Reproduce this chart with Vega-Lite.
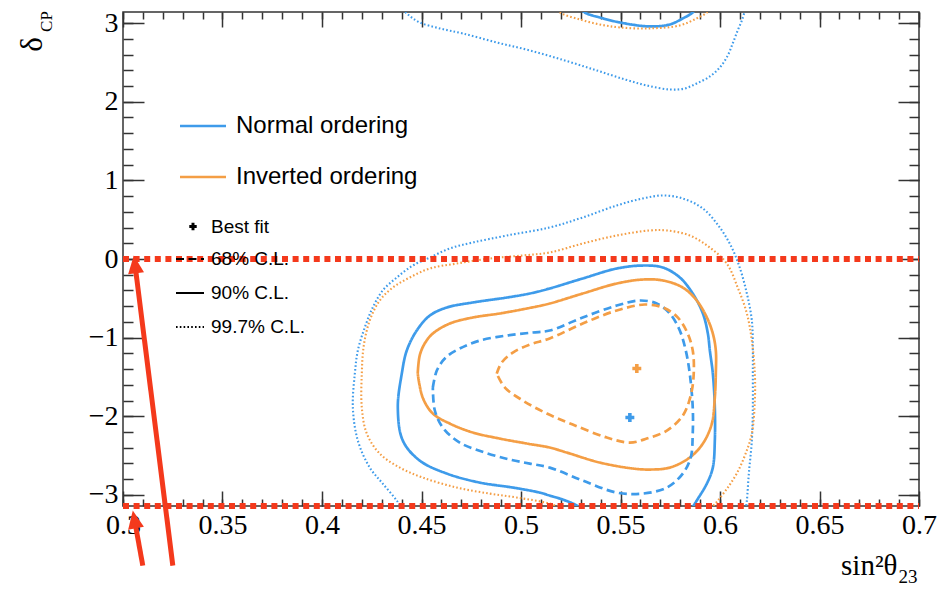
{
 "$schema": "https://vega.github.io/schema/vega-lite/v6.json",
 "width": 796,
 "height": 494,
 "autosize": "none",
 "padding": {"left": 123, "top": 12, "right": 26, "bottom": 86},
 "background": "white",
 "config": {
  "view": {"stroke": "#333", "strokeWidth": 1.5},
  "axis": {"domain": false, "grid": false, "tickColor": "#333", "tickWidth": 1.5, "labelColor": "#000", "labelFont": "Liberation Serif", "labelFontSize": 28, "titleColor": "#000", "titleFont": "Liberation Serif", "titleFontWeight": "normal", "labelFlush": false, "labelOverlap": false, "labelBound": false},
  "legend": {"labelFont": "Liberation Sans", "labelColor": "#000", "labelLimit": 0, "padding": 0}
 },
 "datasets": {
  "contours": [
   {"ordering":"Normal ordering","cl":"99.7% C.L.","part":"a","k":0,"sin2":0.4401,"dcp":-3.174},
   {"ordering":"Normal ordering","cl":"99.7% C.L.","part":"a","k":1,"sin2":0.4376,"dcp":-3.073},
   {"ordering":"Normal ordering","cl":"99.7% C.L.","part":"a","k":2,"sin2":0.4305,"dcp":-2.856},
   {"ordering":"Normal ordering","cl":"99.7% C.L.","part":"a","k":3,"sin2":0.4240,"dcp":-2.653},
   {"ordering":"Normal ordering","cl":"99.7% C.L.","part":"a","k":4,"sin2":0.4180,"dcp":-2.309},
   {"ordering":"Normal ordering","cl":"99.7% C.L.","part":"a","k":5,"sin2":0.4155,"dcp":-1.889},
   {"ordering":"Normal ordering","cl":"99.7% C.L.","part":"a","k":6,"sin2":0.4165,"dcp":-1.457},
   {"ordering":"Normal ordering","cl":"99.7% C.L.","part":"a","k":7,"sin2":0.4180,"dcp":-1.164},
   {"ordering":"Normal ordering","cl":"99.7% C.L.","part":"a","k":8,"sin2":0.4215,"dcp":-0.871},
   {"ordering":"Normal ordering","cl":"99.7% C.L.","part":"a","k":9,"sin2":0.4255,"dcp":-0.617},
   {"ordering":"Normal ordering","cl":"99.7% C.L.","part":"a","k":10,"sin2":0.4305,"dcp":-0.401},
   {"ordering":"Normal ordering","cl":"99.7% C.L.","part":"a","k":11,"sin2":0.4376,"dcp":-0.235},
   {"ordering":"Normal ordering","cl":"99.7% C.L.","part":"a","k":12,"sin2":0.4456,"dcp":-0.083},
   {"ordering":"Normal ordering","cl":"99.7% C.L.","part":"a","k":13,"sin2":0.4542,"dcp":0.019},
   {"ordering":"Normal ordering","cl":"99.7% C.L.","part":"a","k":14,"sin2":0.4642,"dcp":0.134},
   {"ordering":"Normal ordering","cl":"99.7% C.L.","part":"a","k":15,"sin2":0.4758,"dcp":0.210},
   {"ordering":"Normal ordering","cl":"99.7% C.L.","part":"a","k":16,"sin2":0.4929,"dcp":0.299},
   {"ordering":"Normal ordering","cl":"99.7% C.L.","part":"a","k":17,"sin2":0.5144,"dcp":0.401},
   {"ordering":"Normal ordering","cl":"99.7% C.L.","part":"a","k":18,"sin2":0.5310,"dcp":0.528},
   {"ordering":"Normal ordering","cl":"99.7% C.L.","part":"a","k":19,"sin2":0.5481,"dcp":0.681},
   {"ordering":"Normal ordering","cl":"99.7% C.L.","part":"a","k":20,"sin2":0.5612,"dcp":0.770},
   {"ordering":"Normal ordering","cl":"99.7% C.L.","part":"a","k":21,"sin2":0.5713,"dcp":0.808},
   {"ordering":"Normal ordering","cl":"99.7% C.L.","part":"a","k":22,"sin2":0.5813,"dcp":0.770},
   {"ordering":"Normal ordering","cl":"99.7% C.L.","part":"a","k":23,"sin2":0.5914,"dcp":0.642},
   {"ordering":"Normal ordering","cl":"99.7% C.L.","part":"a","k":24,"sin2":0.5999,"dcp":0.401},
   {"ordering":"Normal ordering","cl":"99.7% C.L.","part":"a","k":25,"sin2":0.6059,"dcp":0.146},
   {"ordering":"Normal ordering","cl":"99.7% C.L.","part":"a","k":26,"sin2":0.6099,"dcp":-0.108},
   {"ordering":"Normal ordering","cl":"99.7% C.L.","part":"a","k":27,"sin2":0.6135,"dcp":-0.439},
   {"ordering":"Normal ordering","cl":"99.7% C.L.","part":"a","k":28,"sin2":0.6160,"dcp":-0.782},
   {"ordering":"Normal ordering","cl":"99.7% C.L.","part":"a","k":29,"sin2":0.6165,"dcp":-1.164},
   {"ordering":"Normal ordering","cl":"99.7% C.L.","part":"a","k":30,"sin2":0.6165,"dcp":-1.457},
   {"ordering":"Normal ordering","cl":"99.7% C.L.","part":"a","k":31,"sin2":0.6165,"dcp":-1.889},
   {"ordering":"Normal ordering","cl":"99.7% C.L.","part":"a","k":32,"sin2":0.6160,"dcp":-2.309},
   {"ordering":"Normal ordering","cl":"99.7% C.L.","part":"a","k":33,"sin2":0.6145,"dcp":-2.729},
   {"ordering":"Normal ordering","cl":"99.7% C.L.","part":"a","k":34,"sin2":0.6135,"dcp":-3.073},
   {"ordering":"Normal ordering","cl":"99.7% C.L.","part":"a","k":35,"sin2":0.6130,"dcp":-3.174},
   {"ordering":"Normal ordering","cl":"99.7% C.L.","part":"b","k":0,"sin2":0.4391,"dcp":3.212},
   {"ordering":"Normal ordering","cl":"99.7% C.L.","part":"b","k":1,"sin2":0.4432,"dcp":3.110},
   {"ordering":"Normal ordering","cl":"99.7% C.L.","part":"b","k":2,"sin2":0.4491,"dcp":3.009},
   {"ordering":"Normal ordering","cl":"99.7% C.L.","part":"b","k":3,"sin2":0.4592,"dcp":2.933},
   {"ordering":"Normal ordering","cl":"99.7% C.L.","part":"b","k":4,"sin2":0.4707,"dcp":2.869},
   {"ordering":"Normal ordering","cl":"99.7% C.L.","part":"b","k":5,"sin2":0.4878,"dcp":2.754},
   {"ordering":"Normal ordering","cl":"99.7% C.L.","part":"b","k":6,"sin2":0.5044,"dcp":2.653},
   {"ordering":"Normal ordering","cl":"99.7% C.L.","part":"b","k":7,"sin2":0.5220,"dcp":2.525},
   {"ordering":"Normal ordering","cl":"99.7% C.L.","part":"b","k":8,"sin2":0.5381,"dcp":2.398},
   {"ordering":"Normal ordering","cl":"99.7% C.L.","part":"b","k":9,"sin2":0.5522,"dcp":2.284},
   {"ordering":"Normal ordering","cl":"99.7% C.L.","part":"b","k":10,"sin2":0.5632,"dcp":2.207},
   {"ordering":"Normal ordering","cl":"99.7% C.L.","part":"b","k":11,"sin2":0.5748,"dcp":2.156},
   {"ordering":"Normal ordering","cl":"99.7% C.L.","part":"b","k":12,"sin2":0.5823,"dcp":2.169},
   {"ordering":"Normal ordering","cl":"99.7% C.L.","part":"b","k":13,"sin2":0.5883,"dcp":2.233},
   {"ordering":"Normal ordering","cl":"99.7% C.L.","part":"b","k":14,"sin2":0.5949,"dcp":2.322},
   {"ordering":"Normal ordering","cl":"99.7% C.L.","part":"b","k":15,"sin2":0.5999,"dcp":2.436},
   {"ordering":"Normal ordering","cl":"99.7% C.L.","part":"b","k":16,"sin2":0.6039,"dcp":2.589},
   {"ordering":"Normal ordering","cl":"99.7% C.L.","part":"b","k":17,"sin2":0.6064,"dcp":2.742},
   {"ordering":"Normal ordering","cl":"99.7% C.L.","part":"b","k":18,"sin2":0.6089,"dcp":2.907},
   {"ordering":"Normal ordering","cl":"99.7% C.L.","part":"b","k":19,"sin2":0.6110,"dcp":3.034},
   {"ordering":"Normal ordering","cl":"99.7% C.L.","part":"b","k":20,"sin2":0.6125,"dcp":3.161},
   {"ordering":"Normal ordering","cl":"99.7% C.L.","part":"b","k":21,"sin2":0.6130,"dcp":3.225},
   {"ordering":"Inverted ordering","cl":"99.7% C.L.","part":"a","k":0,"sin2":0.5205,"dcp":-3.174},
   {"ordering":"Inverted ordering","cl":"99.7% C.L.","part":"a","k":1,"sin2":0.5144,"dcp":-3.111},
   {"ordering":"Inverted ordering","cl":"99.7% C.L.","part":"a","k":2,"sin2":0.4979,"dcp":-3.034},
   {"ordering":"Inverted ordering","cl":"99.7% C.L.","part":"a","k":3,"sin2":0.4843,"dcp":-2.984},
   {"ordering":"Inverted ordering","cl":"99.7% C.L.","part":"a","k":4,"sin2":0.4677,"dcp":-2.907},
   {"ordering":"Inverted ordering","cl":"99.7% C.L.","part":"a","k":5,"sin2":0.4506,"dcp":-2.780},
   {"ordering":"Inverted ordering","cl":"99.7% C.L.","part":"a","k":6,"sin2":0.4391,"dcp":-2.653},
   {"ordering":"Inverted ordering","cl":"99.7% C.L.","part":"a","k":7,"sin2":0.4290,"dcp":-2.475},
   {"ordering":"Inverted ordering","cl":"99.7% C.L.","part":"a","k":8,"sin2":0.4225,"dcp":-2.220},
   {"ordering":"Inverted ordering","cl":"99.7% C.L.","part":"a","k":9,"sin2":0.4200,"dcp":-1.889},
   {"ordering":"Inverted ordering","cl":"99.7% C.L.","part":"a","k":10,"sin2":0.4200,"dcp":-1.457},
   {"ordering":"Inverted ordering","cl":"99.7% C.L.","part":"a","k":11,"sin2":0.4210,"dcp":-1.100},
   {"ordering":"Inverted ordering","cl":"99.7% C.L.","part":"a","k":12,"sin2":0.4240,"dcp":-0.782},
   {"ordering":"Inverted ordering","cl":"99.7% C.L.","part":"a","k":13,"sin2":0.4290,"dcp":-0.528},
   {"ordering":"Inverted ordering","cl":"99.7% C.L.","part":"a","k":14,"sin2":0.4356,"dcp":-0.363},
   {"ordering":"Inverted ordering","cl":"99.7% C.L.","part":"a","k":15,"sin2":0.4441,"dcp":-0.235},
   {"ordering":"Inverted ordering","cl":"99.7% C.L.","part":"a","k":16,"sin2":0.4542,"dcp":-0.121},
   {"ordering":"Inverted ordering","cl":"99.7% C.L.","part":"a","k":17,"sin2":0.4677,"dcp":-0.057},
   {"ordering":"Inverted ordering","cl":"99.7% C.L.","part":"a","k":18,"sin2":0.4843,"dcp":0.006},
   {"ordering":"Inverted ordering","cl":"99.7% C.L.","part":"a","k":19,"sin2":0.5009,"dcp":0.045},
   {"ordering":"Inverted ordering","cl":"99.7% C.L.","part":"a","k":20,"sin2":0.5144,"dcp":0.083},
   {"ordering":"Inverted ordering","cl":"99.7% C.L.","part":"a","k":21,"sin2":0.5310,"dcp":0.197},
   {"ordering":"Inverted ordering","cl":"99.7% C.L.","part":"a","k":22,"sin2":0.5481,"dcp":0.299},
   {"ordering":"Inverted ordering","cl":"99.7% C.L.","part":"a","k":23,"sin2":0.5647,"dcp":0.363},
   {"ordering":"Inverted ordering","cl":"99.7% C.L.","part":"a","k":24,"sin2":0.5733,"dcp":0.363},
   {"ordering":"Inverted ordering","cl":"99.7% C.L.","part":"a","k":25,"sin2":0.5848,"dcp":0.299},
   {"ordering":"Inverted ordering","cl":"99.7% C.L.","part":"a","k":26,"sin2":0.5949,"dcp":0.146},
   {"ordering":"Inverted ordering","cl":"99.7% C.L.","part":"a","k":27,"sin2":0.6034,"dcp":-0.057},
   {"ordering":"Inverted ordering","cl":"99.7% C.L.","part":"a","k":28,"sin2":0.6089,"dcp":-0.363},
   {"ordering":"Inverted ordering","cl":"99.7% C.L.","part":"a","k":29,"sin2":0.6135,"dcp":-0.693},
   {"ordering":"Inverted ordering","cl":"99.7% C.L.","part":"a","k":30,"sin2":0.6160,"dcp":-1.037},
   {"ordering":"Inverted ordering","cl":"99.7% C.L.","part":"a","k":31,"sin2":0.6175,"dcp":-1.457},
   {"ordering":"Inverted ordering","cl":"99.7% C.L.","part":"a","k":32,"sin2":0.6175,"dcp":-1.800},
   {"ordering":"Inverted ordering","cl":"99.7% C.L.","part":"a","k":33,"sin2":0.6160,"dcp":-2.220},
   {"ordering":"Inverted ordering","cl":"99.7% C.L.","part":"a","k":34,"sin2":0.6125,"dcp":-2.500},
   {"ordering":"Inverted ordering","cl":"99.7% C.L.","part":"a","k":35,"sin2":0.6084,"dcp":-2.729},
   {"ordering":"Inverted ordering","cl":"99.7% C.L.","part":"a","k":36,"sin2":0.6039,"dcp":-2.907},
   {"ordering":"Inverted ordering","cl":"99.7% C.L.","part":"a","k":37,"sin2":0.5989,"dcp":-3.073},
   {"ordering":"Inverted ordering","cl":"99.7% C.L.","part":"a","k":38,"sin2":0.5954,"dcp":-3.174},
   {"ordering":"Inverted ordering","cl":"99.7% C.L.","part":"b","k":0,"sin2":0.5170,"dcp":3.212},
   {"ordering":"Inverted ordering","cl":"99.7% C.L.","part":"b","k":1,"sin2":0.5195,"dcp":3.136},
   {"ordering":"Inverted ordering","cl":"99.7% C.L.","part":"b","k":2,"sin2":0.5295,"dcp":3.047},
   {"ordering":"Inverted ordering","cl":"99.7% C.L.","part":"b","k":3,"sin2":0.5396,"dcp":2.983},
   {"ordering":"Inverted ordering","cl":"99.7% C.L.","part":"b","k":4,"sin2":0.5496,"dcp":2.945},
   {"ordering":"Inverted ordering","cl":"99.7% C.L.","part":"b","k":5,"sin2":0.5647,"dcp":2.933},
   {"ordering":"Inverted ordering","cl":"99.7% C.L.","part":"b","k":6,"sin2":0.5798,"dcp":2.971},
   {"ordering":"Inverted ordering","cl":"99.7% C.L.","part":"b","k":7,"sin2":0.5883,"dcp":3.060},
   {"ordering":"Inverted ordering","cl":"99.7% C.L.","part":"b","k":8,"sin2":0.5934,"dcp":3.136},
   {"ordering":"Inverted ordering","cl":"99.7% C.L.","part":"b","k":9,"sin2":0.5954,"dcp":3.212},
   {"ordering":"Normal ordering","cl":"90% C.L.","part":"a","k":0,"sin2":0.5295,"dcp":-3.174},
   {"ordering":"Normal ordering","cl":"90% C.L.","part":"a","k":1,"sin2":0.5280,"dcp":-3.136},
   {"ordering":"Normal ordering","cl":"90% C.L.","part":"a","k":2,"sin2":0.5210,"dcp":-3.060},
   {"ordering":"Normal ordering","cl":"90% C.L.","part":"a","k":3,"sin2":0.5144,"dcp":-3.009},
   {"ordering":"Normal ordering","cl":"90% C.L.","part":"a","k":4,"sin2":0.5094,"dcp":-2.971},
   {"ordering":"Normal ordering","cl":"90% C.L.","part":"a","k":5,"sin2":0.4959,"dcp":-2.907},
   {"ordering":"Normal ordering","cl":"90% C.L.","part":"a","k":6,"sin2":0.4793,"dcp":-2.844},
   {"ordering":"Normal ordering","cl":"90% C.L.","part":"a","k":7,"sin2":0.4627,"dcp":-2.729},
   {"ordering":"Normal ordering","cl":"90% C.L.","part":"a","k":8,"sin2":0.4491,"dcp":-2.564},
   {"ordering":"Normal ordering","cl":"90% C.L.","part":"a","k":9,"sin2":0.4406,"dcp":-2.309},
   {"ordering":"Normal ordering","cl":"90% C.L.","part":"a","k":10,"sin2":0.4381,"dcp":-1.889},
   {"ordering":"Normal ordering","cl":"90% C.L.","part":"a","k":11,"sin2":0.4401,"dcp":-1.457},
   {"ordering":"Normal ordering","cl":"90% C.L.","part":"a","k":12,"sin2":0.4426,"dcp":-1.164},
   {"ordering":"Normal ordering","cl":"90% C.L.","part":"a","k":13,"sin2":0.4476,"dcp":-0.910},
   {"ordering":"Normal ordering","cl":"90% C.L.","part":"a","k":14,"sin2":0.4542,"dcp":-0.719},
   {"ordering":"Normal ordering","cl":"90% C.L.","part":"a","k":15,"sin2":0.4627,"dcp":-0.617},
   {"ordering":"Normal ordering","cl":"90% C.L.","part":"a","k":16,"sin2":0.4758,"dcp":-0.553},
   {"ordering":"Normal ordering","cl":"90% C.L.","part":"a","k":17,"sin2":0.4929,"dcp":-0.490},
   {"ordering":"Normal ordering","cl":"90% C.L.","part":"a","k":18,"sin2":0.5044,"dcp":-0.439},
   {"ordering":"Normal ordering","cl":"90% C.L.","part":"a","k":19,"sin2":0.5144,"dcp":-0.375},
   {"ordering":"Normal ordering","cl":"90% C.L.","part":"a","k":20,"sin2":0.5310,"dcp":-0.248},
   {"ordering":"Normal ordering","cl":"90% C.L.","part":"a","k":21,"sin2":0.5481,"dcp":-0.121},
   {"ordering":"Normal ordering","cl":"90% C.L.","part":"a","k":22,"sin2":0.5612,"dcp":-0.083},
   {"ordering":"Normal ordering","cl":"90% C.L.","part":"a","k":23,"sin2":0.5713,"dcp":-0.108},
   {"ordering":"Normal ordering","cl":"90% C.L.","part":"a","k":24,"sin2":0.5798,"dcp":-0.235},
   {"ordering":"Normal ordering","cl":"90% C.L.","part":"a","k":25,"sin2":0.5863,"dcp":-0.439},
   {"ordering":"Normal ordering","cl":"90% C.L.","part":"a","k":26,"sin2":0.5914,"dcp":-0.693},
   {"ordering":"Normal ordering","cl":"90% C.L.","part":"a","k":27,"sin2":0.5939,"dcp":-0.948},
   {"ordering":"Normal ordering","cl":"90% C.L.","part":"a","k":28,"sin2":0.5949,"dcp":-1.164},
   {"ordering":"Normal ordering","cl":"90% C.L.","part":"a","k":29,"sin2":0.5964,"dcp":-1.457},
   {"ordering":"Normal ordering","cl":"90% C.L.","part":"a","k":30,"sin2":0.5974,"dcp":-1.889},
   {"ordering":"Normal ordering","cl":"90% C.L.","part":"a","k":31,"sin2":0.5974,"dcp":-2.309},
   {"ordering":"Normal ordering","cl":"90% C.L.","part":"a","k":32,"sin2":0.5964,"dcp":-2.653},
   {"ordering":"Normal ordering","cl":"90% C.L.","part":"a","k":33,"sin2":0.5934,"dcp":-2.856},
   {"ordering":"Normal ordering","cl":"90% C.L.","part":"a","k":34,"sin2":0.5883,"dcp":-3.073},
   {"ordering":"Normal ordering","cl":"90% C.L.","part":"a","k":35,"sin2":0.5858,"dcp":-3.174},
   {"ordering":"Normal ordering","cl":"90% C.L.","part":"b","k":0,"sin2":0.5285,"dcp":3.225},
   {"ordering":"Normal ordering","cl":"90% C.L.","part":"b","k":1,"sin2":0.5320,"dcp":3.136},
   {"ordering":"Normal ordering","cl":"90% C.L.","part":"b","k":2,"sin2":0.5396,"dcp":3.072},
   {"ordering":"Normal ordering","cl":"90% C.L.","part":"b","k":3,"sin2":0.5496,"dcp":3.009},
   {"ordering":"Normal ordering","cl":"90% C.L.","part":"b","k":4,"sin2":0.5647,"dcp":2.958},
   {"ordering":"Normal ordering","cl":"90% C.L.","part":"b","k":5,"sin2":0.5748,"dcp":2.983},
   {"ordering":"Normal ordering","cl":"90% C.L.","part":"b","k":6,"sin2":0.5813,"dcp":3.060},
   {"ordering":"Normal ordering","cl":"90% C.L.","part":"b","k":7,"sin2":0.5863,"dcp":3.136},
   {"ordering":"Normal ordering","cl":"90% C.L.","part":"b","k":8,"sin2":0.5883,"dcp":3.212},
   {"ordering":"Inverted ordering","cl":"90% C.L.","part":"a","k":0,"sin2":0.4481,"dcp":-1.457},
   {"ordering":"Inverted ordering","cl":"90% C.L.","part":"a","k":1,"sin2":0.4491,"dcp":-1.228},
   {"ordering":"Inverted ordering","cl":"90% C.L.","part":"a","k":2,"sin2":0.4516,"dcp":-1.075},
   {"ordering":"Inverted ordering","cl":"90% C.L.","part":"a","k":3,"sin2":0.4557,"dcp":-0.948},
   {"ordering":"Inverted ordering","cl":"90% C.L.","part":"a","k":4,"sin2":0.4642,"dcp":-0.821},
   {"ordering":"Inverted ordering","cl":"90% C.L.","part":"a","k":5,"sin2":0.4758,"dcp":-0.744},
   {"ordering":"Inverted ordering","cl":"90% C.L.","part":"a","k":6,"sin2":0.4893,"dcp":-0.693},
   {"ordering":"Inverted ordering","cl":"90% C.L.","part":"a","k":7,"sin2":0.5029,"dcp":-0.630},
   {"ordering":"Inverted ordering","cl":"90% C.L.","part":"a","k":8,"sin2":0.5144,"dcp":-0.566},
   {"ordering":"Inverted ordering","cl":"90% C.L.","part":"a","k":9,"sin2":0.5310,"dcp":-0.439},
   {"ordering":"Inverted ordering","cl":"90% C.L.","part":"a","k":10,"sin2":0.5481,"dcp":-0.312},
   {"ordering":"Inverted ordering","cl":"90% C.L.","part":"a","k":11,"sin2":0.5612,"dcp":-0.261},
   {"ordering":"Inverted ordering","cl":"90% C.L.","part":"a","k":12,"sin2":0.5713,"dcp":-0.273},
   {"ordering":"Inverted ordering","cl":"90% C.L.","part":"a","k":13,"sin2":0.5813,"dcp":-0.363},
   {"ordering":"Inverted ordering","cl":"90% C.L.","part":"a","k":14,"sin2":0.5883,"dcp":-0.528},
   {"ordering":"Inverted ordering","cl":"90% C.L.","part":"a","k":15,"sin2":0.5934,"dcp":-0.744},
   {"ordering":"Inverted ordering","cl":"90% C.L.","part":"a","k":16,"sin2":0.5964,"dcp":-0.948},
   {"ordering":"Inverted ordering","cl":"90% C.L.","part":"a","k":17,"sin2":0.5979,"dcp":-1.164},
   {"ordering":"Inverted ordering","cl":"90% C.L.","part":"a","k":18,"sin2":0.5979,"dcp":-1.457},
   {"ordering":"Inverted ordering","cl":"90% C.L.","part":"a","k":19,"sin2":0.5974,"dcp":-1.762},
   {"ordering":"Inverted ordering","cl":"90% C.L.","part":"a","k":20,"sin2":0.5959,"dcp":-2.093},
   {"ordering":"Inverted ordering","cl":"90% C.L.","part":"a","k":21,"sin2":0.5914,"dcp":-2.347},
   {"ordering":"Inverted ordering","cl":"90% C.L.","part":"a","k":22,"sin2":0.5848,"dcp":-2.525},
   {"ordering":"Inverted ordering","cl":"90% C.L.","part":"a","k":23,"sin2":0.5748,"dcp":-2.653},
   {"ordering":"Inverted ordering","cl":"90% C.L.","part":"a","k":24,"sin2":0.5647,"dcp":-2.678},
   {"ordering":"Inverted ordering","cl":"90% C.L.","part":"a","k":25,"sin2":0.5562,"dcp":-2.665},
   {"ordering":"Inverted ordering","cl":"90% C.L.","part":"a","k":26,"sin2":0.5396,"dcp":-2.589},
   {"ordering":"Inverted ordering","cl":"90% C.L.","part":"a","k":27,"sin2":0.5230,"dcp":-2.462},
   {"ordering":"Inverted ordering","cl":"90% C.L.","part":"a","k":28,"sin2":0.5144,"dcp":-2.398},
   {"ordering":"Inverted ordering","cl":"90% C.L.","part":"a","k":29,"sin2":0.5029,"dcp":-2.347},
   {"ordering":"Inverted ordering","cl":"90% C.L.","part":"a","k":30,"sin2":0.4893,"dcp":-2.284},
   {"ordering":"Inverted ordering","cl":"90% C.L.","part":"a","k":31,"sin2":0.4758,"dcp":-2.207},
   {"ordering":"Inverted ordering","cl":"90% C.L.","part":"a","k":32,"sin2":0.4642,"dcp":-2.093},
   {"ordering":"Inverted ordering","cl":"90% C.L.","part":"a","k":33,"sin2":0.4557,"dcp":-1.966},
   {"ordering":"Inverted ordering","cl":"90% C.L.","part":"a","k":34,"sin2":0.4506,"dcp":-1.762},
   {"ordering":"Inverted ordering","cl":"90% C.L.","part":"a","k":35,"sin2":0.4481,"dcp":-1.457},
   {"ordering":"Normal ordering","cl":"68% C.L.","part":"a","k":0,"sin2":0.4557,"dcp":-1.635},
   {"ordering":"Normal ordering","cl":"68% C.L.","part":"a","k":1,"sin2":0.4577,"dcp":-1.419},
   {"ordering":"Normal ordering","cl":"68% C.L.","part":"a","k":2,"sin2":0.4622,"dcp":-1.253},
   {"ordering":"Normal ordering","cl":"68% C.L.","part":"a","k":3,"sin2":0.4692,"dcp":-1.139},
   {"ordering":"Normal ordering","cl":"68% C.L.","part":"a","k":4,"sin2":0.4793,"dcp":-1.037},
   {"ordering":"Normal ordering","cl":"68% C.L.","part":"a","k":5,"sin2":0.4929,"dcp":-0.973},
   {"ordering":"Normal ordering","cl":"68% C.L.","part":"a","k":6,"sin2":0.5059,"dcp":-0.935},
   {"ordering":"Normal ordering","cl":"68% C.L.","part":"a","k":7,"sin2":0.5144,"dcp":-0.910},
   {"ordering":"Normal ordering","cl":"68% C.L.","part":"a","k":8,"sin2":0.5310,"dcp":-0.744},
   {"ordering":"Normal ordering","cl":"68% C.L.","part":"a","k":9,"sin2":0.5481,"dcp":-0.592},
   {"ordering":"Normal ordering","cl":"68% C.L.","part":"a","k":10,"sin2":0.5597,"dcp":-0.528},
   {"ordering":"Normal ordering","cl":"68% C.L.","part":"a","k":11,"sin2":0.5682,"dcp":-0.566},
   {"ordering":"Normal ordering","cl":"68% C.L.","part":"a","k":12,"sin2":0.5748,"dcp":-0.693},
   {"ordering":"Normal ordering","cl":"68% C.L.","part":"a","k":13,"sin2":0.5798,"dcp":-0.910},
   {"ordering":"Normal ordering","cl":"68% C.L.","part":"a","k":14,"sin2":0.5828,"dcp":-1.164},
   {"ordering":"Normal ordering","cl":"68% C.L.","part":"a","k":15,"sin2":0.5848,"dcp":-1.457},
   {"ordering":"Normal ordering","cl":"68% C.L.","part":"a","k":16,"sin2":0.5863,"dcp":-1.889},
   {"ordering":"Normal ordering","cl":"68% C.L.","part":"a","k":17,"sin2":0.5863,"dcp":-2.220},
   {"ordering":"Normal ordering","cl":"68% C.L.","part":"a","k":18,"sin2":0.5853,"dcp":-2.525},
   {"ordering":"Normal ordering","cl":"68% C.L.","part":"a","k":19,"sin2":0.5813,"dcp":-2.729},
   {"ordering":"Normal ordering","cl":"68% C.L.","part":"a","k":20,"sin2":0.5733,"dcp":-2.907},
   {"ordering":"Normal ordering","cl":"68% C.L.","part":"a","k":21,"sin2":0.5612,"dcp":-2.984},
   {"ordering":"Normal ordering","cl":"68% C.L.","part":"a","k":22,"sin2":0.5481,"dcp":-2.971},
   {"ordering":"Normal ordering","cl":"68% C.L.","part":"a","k":23,"sin2":0.5310,"dcp":-2.818},
   {"ordering":"Normal ordering","cl":"68% C.L.","part":"a","k":24,"sin2":0.5144,"dcp":-2.653},
   {"ordering":"Normal ordering","cl":"68% C.L.","part":"a","k":25,"sin2":0.5044,"dcp":-2.602},
   {"ordering":"Normal ordering","cl":"68% C.L.","part":"a","k":26,"sin2":0.4944,"dcp":-2.551},
   {"ordering":"Normal ordering","cl":"68% C.L.","part":"a","k":27,"sin2":0.4818,"dcp":-2.462},
   {"ordering":"Normal ordering","cl":"68% C.L.","part":"a","k":28,"sin2":0.4692,"dcp":-2.335},
   {"ordering":"Normal ordering","cl":"68% C.L.","part":"a","k":29,"sin2":0.4607,"dcp":-2.144},
   {"ordering":"Normal ordering","cl":"68% C.L.","part":"a","k":30,"sin2":0.4567,"dcp":-1.927},
   {"ordering":"Normal ordering","cl":"68% C.L.","part":"a","k":31,"sin2":0.4557,"dcp":-1.635},
   {"ordering":"Inverted ordering","cl":"68% C.L.","part":"a","k":0,"sin2":0.4878,"dcp":-1.457},
   {"ordering":"Inverted ordering","cl":"68% C.L.","part":"a","k":1,"sin2":0.4903,"dcp":-1.317},
   {"ordering":"Inverted ordering","cl":"68% C.L.","part":"a","k":2,"sin2":0.4959,"dcp":-1.190},
   {"ordering":"Inverted ordering","cl":"68% C.L.","part":"a","k":3,"sin2":0.5044,"dcp":-1.088},
   {"ordering":"Inverted ordering","cl":"68% C.L.","part":"a","k":4,"sin2":0.5144,"dcp":-1.011},
   {"ordering":"Inverted ordering","cl":"68% C.L.","part":"a","k":5,"sin2":0.5310,"dcp":-0.821},
   {"ordering":"Inverted ordering","cl":"68% C.L.","part":"a","k":6,"sin2":0.5481,"dcp":-0.655},
   {"ordering":"Inverted ordering","cl":"68% C.L.","part":"a","k":7,"sin2":0.5622,"dcp":-0.579},
   {"ordering":"Inverted ordering","cl":"68% C.L.","part":"a","k":8,"sin2":0.5713,"dcp":-0.617},
   {"ordering":"Inverted ordering","cl":"68% C.L.","part":"a","k":9,"sin2":0.5783,"dcp":-0.732},
   {"ordering":"Inverted ordering","cl":"68% C.L.","part":"a","k":10,"sin2":0.5833,"dcp":-0.922},
   {"ordering":"Inverted ordering","cl":"68% C.L.","part":"a","k":11,"sin2":0.5863,"dcp":-1.164},
   {"ordering":"Inverted ordering","cl":"68% C.L.","part":"a","k":12,"sin2":0.5868,"dcp":-1.457},
   {"ordering":"Inverted ordering","cl":"68% C.L.","part":"a","k":13,"sin2":0.5853,"dcp":-1.737},
   {"ordering":"Inverted ordering","cl":"68% C.L.","part":"a","k":14,"sin2":0.5813,"dcp":-1.992},
   {"ordering":"Inverted ordering","cl":"68% C.L.","part":"a","k":15,"sin2":0.5733,"dcp":-2.182},
   {"ordering":"Inverted ordering","cl":"68% C.L.","part":"a","k":16,"sin2":0.5632,"dcp":-2.284},
   {"ordering":"Inverted ordering","cl":"68% C.L.","part":"a","k":17,"sin2":0.5547,"dcp":-2.335},
   {"ordering":"Inverted ordering","cl":"68% C.L.","part":"a","k":18,"sin2":0.5431,"dcp":-2.271},
   {"ordering":"Inverted ordering","cl":"68% C.L.","part":"a","k":19,"sin2":0.5260,"dcp":-2.106},
   {"ordering":"Inverted ordering","cl":"68% C.L.","part":"a","k":20,"sin2":0.5130,"dcp":-1.966},
   {"ordering":"Inverted ordering","cl":"68% C.L.","part":"a","k":21,"sin2":0.5009,"dcp":-1.800},
   {"ordering":"Inverted ordering","cl":"68% C.L.","part":"a","k":22,"sin2":0.4919,"dcp":-1.635},
   {"ordering":"Inverted ordering","cl":"68% C.L.","part":"a","k":23,"sin2":0.4878,"dcp":-1.457}
  ],
  "fits": [
   {"ordering":"Normal ordering","fit":"Best fit","sin2":0.5547,"dcp":-2.017},
   {"ordering":"Inverted ordering","fit":"Best fit","sin2":0.5582,"dcp":-1.393}
  ],
  "redlines": [
   {"dcp":0,"lo":0.3,"hi":0.7},
   {"dcp":-3.14159265,"lo":0.3,"hi":0.7}
  ],
  "arrows": [
   {"arrow":"long","k":0,"sin2":0.32503,"dcp":-3.9},
   {"arrow":"long","k":1,"sin2":0.30608,"dcp":-0.083},
   {"arrow":"short","k":0,"sin2":0.30995,"dcp":-3.9},
   {"arrow":"short","k":1,"sin2":0.30583,"dcp":-3.324}
  ],
  "headLong": [{"sin2":0.30543,"dcp":0.045}],
  "headShort": [{"sin2":0.30492,"dcp":-3.2}]
 },
 "layer": [
  {
   "data": {"name": "contours"},
   "transform": [{"filter": "datum.cl != '99.7% C.L.'"}],
   "mark": {"type": "line", "interpolate": "catmull-rom", "strokeWidth": 2.7, "clip": true},
   "encoding": {
    "x": {"field": "sin2", "type": "quantitative", "scale": {"domain": [0.3, 0.7], "nice": false, "zero": false},
     "axis": {"orient": "bottom", "values": [0.3,0.35,0.4,0.45,0.5,0.55,0.6,0.65,0.7], "format": ".2~f", "tickSize": -15, "labelPadding": 20,
      "title": "sin²θ", "titleFontSize": 29, "titleX": 774, "titleY": 68, "titleAlign": "right", "titleBaseline": "alphabetic", "titleAngle": 0}},
    "y": {"field": "dcp", "type": "quantitative", "scale": {"domain": [-3.14159265, 3.14159265], "nice": false, "zero": false},
     "axis": {"orient": "left", "values": [-3,-2,-1,0,1,2,3], "format": "d", "tickSize": -21, "labelPadding": 26,
      "title": "δ", "titleFontSize": 31, "titleX": -82, "titleY": 32, "titleAlign": "center", "titleBaseline": "alphabetic", "titleAngle": -90}},
    "color": {"field": "ordering", "type": "nominal", "scale": {"domain": ["Normal ordering", "Inverted ordering"], "range": ["#3e9bea", "#f49e45"]},
     "legend": {"title": null, "orient": "none", "legendX": 55.5, "legendY": 89.5, "symbolType": "stroke", "symbolSize": 2116, "symbolStrokeWidth": 2.5, "labelFontSize": 24, "labelOffset": 8.5, "rowPadding": 14}},
    "strokeDash": {"field": "cl", "type": "nominal", "scale": {"domain": ["68% C.L.", "90% C.L.", "99.7% C.L."], "range": [[8, 4.5], [1, 0], [1.6, 2.2]]},
     "legend": {"title": null, "orient": "none", "legendX": 52, "legendY": 232, "symbolType": "stroke", "symbolSize": 784, "symbolStrokeWidth": 2, "symbolStrokeColor": "#000", "labelFontSize": 19, "labelOffset": 6, "rowPadding": 9}},
    "detail": {"field": "part"},
    "order": {"field": "k", "type": "quantitative"}
   }
  },
  {
   "data": {"name": "contours"},
   "transform": [{"filter": "datum.cl == '99.7% C.L.'"}],
   "mark": {"type": "line", "interpolate": "catmull-rom", "strokeWidth": 2.1, "clip": true},
   "encoding": {
    "x": {"field": "sin2", "type": "quantitative", "scale": {"domain": [0.3, 0.7], "nice": false, "zero": false}, "axis": null},
    "y": {"field": "dcp", "type": "quantitative", "scale": {"domain": [-3.14159265, 3.14159265], "nice": false, "zero": false}, "axis": null},
    "color": {"field": "ordering", "type": "nominal", "scale": {"domain": ["Normal ordering", "Inverted ordering"], "range": ["#3e9bea", "#f49e45"]}, "legend": null},
    "strokeDash": {"field": "cl", "type": "nominal", "scale": {"domain": ["68% C.L.", "90% C.L.", "99.7% C.L."], "range": [[8, 4.5], [1, 0], [1.6, 2.2]]}, "legend": null},
    "detail": {"field": "part"},
    "order": {"field": "k", "type": "quantitative"}
   }
  },
  {
   "data": {"name": "fits"},
   "mark": {"type": "point", "filled": true, "size": 80, "strokeWidth": 0, "opacity": 1},
   "encoding": {
    "x": {"field": "sin2", "type": "quantitative", "scale": {"domain": [0.3, 0.7], "nice": false, "zero": false},
     "axis": {"orient": "bottom", "values": [0.3,0.31,0.32,0.33,0.34,0.35,0.36,0.37,0.38,0.39,0.4,0.41,0.42,0.43,0.44,0.45,0.46,0.47,0.48,0.49,0.5,0.51,0.52,0.53,0.54,0.55,0.56,0.57,0.58,0.59,0.6,0.61,0.62,0.63,0.64,0.65,0.66,0.67,0.68,0.69,0.7], "tickSize": -7, "labels": false,
      "title": "23", "titleFontSize": 19, "titleX": 775, "titleY": 76, "titleAlign": "left", "titleBaseline": "alphabetic", "titleAngle": 0}},
    "y": {"field": "dcp", "type": "quantitative", "scale": {"domain": [-3.14159265, 3.14159265], "nice": false, "zero": false},
     "axis": {"orient": "left", "values": [-3,-2.8,-2.6,-2.4,-2.2,-2,-1.8,-1.6,-1.4,-1.2,-1,-0.8,-0.6,-0.4,-0.2,0,0.2,0.4,0.6,0.8,1,1.2,1.4,1.6,1.8,2,2.2,2.4,2.6,2.8,3], "tickSize": -10, "labels": false,
      "title": "CP", "titleFontSize": 17, "titleX": -72, "titleY": 9, "titleAlign": "center", "titleBaseline": "alphabetic", "titleAngle": -90}},
    "color": {"field": "ordering", "type": "nominal", "scale": {"domain": ["Normal ordering", "Inverted ordering"], "range": ["#3e9bea", "#f49e45"]}, "legend": null},
    "shape": {"field": "fit", "type": "nominal", "scale": {"domain": ["Best fit"], "range": ["cross"]},
     "legend": {"title": null, "orient": "none", "legendX": 60.5, "legendY": 205, "symbolSize": 55, "symbolFillColor": "#000", "symbolStrokeColor": "#000", "symbolStrokeWidth": 0, "symbolOpacity": 1, "labelFontSize": 19, "labelOffset": 8.5}}
   }
  },
  {
   "data": {"name": "redlines"},
   "mark": {"type": "rule", "color": "#f4391c", "strokeWidth": 6, "strokeDash": [6, 4.6], "strokeCap": "butt"},
   "encoding": {
    "x": {"field": "lo", "type": "quantitative", "scale": {"domain": [0.3, 0.7], "nice": false, "zero": false},
     "axis": {"orient": "top", "values": [0.3,0.35,0.4,0.45,0.5,0.55,0.6,0.65,0.7], "tickSize": -15, "labels": false, "title": null}},
    "x2": {"field": "hi"},
    "y": {"field": "dcp", "type": "quantitative", "scale": {"domain": [-3.14159265, 3.14159265], "nice": false, "zero": false},
     "axis": {"orient": "right", "values": [-3,-2,-1,0,1,2,3], "tickSize": -21, "labels": false, "title": null}}
   }
  },
  {
   "data": {"name": "arrows"},
   "mark": {"type": "line", "color": "#f4391c", "strokeWidth": 5, "strokeCap": "butt", "clip": false},
   "encoding": {
    "x": {"field": "sin2", "type": "quantitative", "scale": {"domain": [0.3, 0.7], "nice": false, "zero": false},
     "axis": {"orient": "top", "values": [0.3,0.31,0.32,0.33,0.34,0.35,0.36,0.37,0.38,0.39,0.4,0.41,0.42,0.43,0.44,0.45,0.46,0.47,0.48,0.49,0.5,0.51,0.52,0.53,0.54,0.55,0.56,0.57,0.58,0.59,0.6,0.61,0.62,0.63,0.64,0.65,0.66,0.67,0.68,0.69,0.7], "tickSize": -7, "labels": false, "title": null}},
    "y": {"field": "dcp", "type": "quantitative", "scale": {"domain": [-3.14159265, 3.14159265], "nice": false, "zero": false},
     "axis": {"orient": "right", "values": [-3,-2.8,-2.6,-2.4,-2.2,-2,-1.8,-1.6,-1.4,-1.2,-1,-0.8,-0.6,-0.4,-0.2,0,0.2,0.4,0.6,0.8,1,1.2,1.4,1.6,1.8,2,2.2,2.4,2.6,2.8,3], "tickSize": -10, "labels": false, "title": null}},
    "detail": {"field": "arrow"},
    "order": {"field": "k", "type": "quantitative"}
   }
  },
  {
   "data": {"name": "headLong"},
   "mark": {"type": "point", "shape": "M0,0L0.8,1.8L-0.8,1.8Z", "size": 400, "filled": true, "color": "#f4391c", "opacity": 1, "strokeWidth": 0, "angle": -7.2},
   "encoding": {
    "x": {"field": "sin2", "type": "quantitative", "scale": {"domain": [0.3, 0.7], "nice": false, "zero": false}, "axis": null},
    "y": {"field": "dcp", "type": "quantitative", "scale": {"domain": [-3.14159265, 3.14159265], "nice": false, "zero": false}, "axis": null}
   }
  },
  {
   "data": {"name": "headShort"},
   "mark": {"type": "point", "shape": "M0,0L0.8,1.8L-0.8,1.8Z", "size": 400, "filled": true, "color": "#f4391c", "opacity": 1, "strokeWidth": 0, "angle": -10.3},
   "encoding": {
    "x": {"field": "sin2", "type": "quantitative", "scale": {"domain": [0.3, 0.7], "nice": false, "zero": false}, "axis": null},
    "y": {"field": "dcp", "type": "quantitative", "scale": {"domain": [-3.14159265, 3.14159265], "nice": false, "zero": false}, "axis": null}
   }
  }
 ],
 "resolve": {"axis": {"x": "independent", "y": "independent"}}
}
